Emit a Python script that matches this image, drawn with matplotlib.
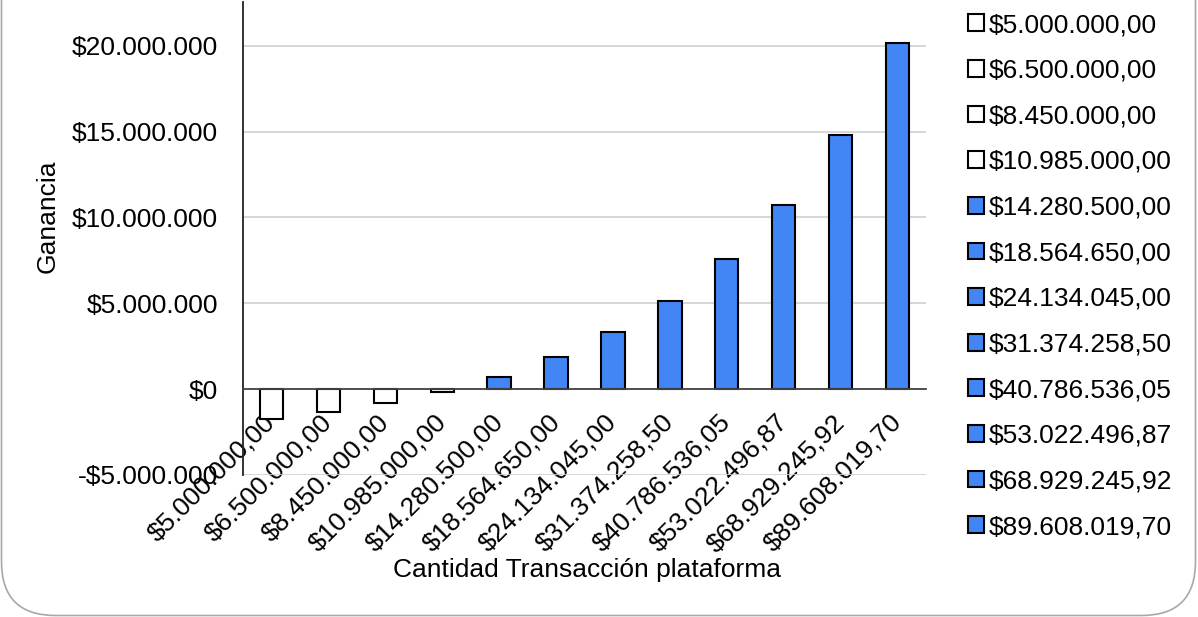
import matplotlib
matplotlib.use('Agg')
import matplotlib.pyplot as plt
from matplotlib.patches import FancyBboxPatch
from matplotlib.ticker import FuncFormatter

plt.rcParams['font.family'] = ['Liberation Sans', 'DejaVu Sans']

# Datos
categorias = ['$5.000.000,00', '$6.500.000,00', '$8.450.000,00', '$10.985.000,00',
              '$14.280.500,00', '$18.564.650,00', '$24.134.045,00', '$31.374.258,50',
              '$40.786.536,05', '$53.022.496,87', '$68.929.245,92', '$89.608.019,70']
ganancia = [-1710000, -1340000, -830000, -170000, 720000, 1860000,
            3320000, 5130000, 7570000, 10720000, 14810000, 20170000]

azul = '#4285F4'
fs = 19

fig = plt.figure(figsize=(11.98, 6.17), dpi=100)
ax = fig.add_axes([243/1198, 1 - 475/617, (926 - 243)/1198, (475 - 2)/617])

for i, (cat, g) in enumerate(zip(categorias, ganancia)):
    color = 'white' if g < 0 else azul
    ax.bar(i, g, width=0.41, color=color, edgecolor='black', linewidth=1.5,
           label=cat, zorder=3)

ax.set_xlim(-0.5, 11.5)
ax.set_ylim(-5000000, 22550000)
ax.set_yticks([-5000000, 0, 5000000, 10000000, 15000000, 20000000])

def fmt(v, pos):
    s = '{:,.0f}'.format(abs(v)).replace(',', '.')
    return ('-$' if v < 0 else '$') + s

ax.yaxis.set_major_formatter(FuncFormatter(fmt))
ax.grid(axis='y', color='#d0d0d0', linewidth=1.2, zorder=0)
ax.tick_params(axis='y', length=0, pad=18, labelsize=fs)

for s in ['top', 'right']:
    ax.spines[s].set_visible(False)
ax.spines['left'].set_color('#222222')
ax.spines['left'].set_linewidth(1.3)
ax.spines['bottom'].set_position(('data', 0))
ax.spines['bottom'].set_color('#444444')
ax.spines['bottom'].set_linewidth(1.3)
ax.spines['bottom'].set_zorder(4)

# etiquetas del eje x giradas, pegadas a la linea del cero
ax.set_xticks(range(len(categorias)))
ax.set_xticklabels(categorias, rotation=45, ha='right', va='center',
                   rotation_mode='anchor', fontsize=fs)
ax.tick_params(axis='x', length=0, pad=21)

fig.text(587/1198, 1 - 570/617, 'Cantidad Transacción plataforma', fontsize=fs,
         ha='center', va='center')
fig.text(48/1198, 1 - 216/617, 'Ganancia', fontsize=fs, rotation=90,
         ha='center', va='center')

ax.legend(loc='upper left', bbox_to_anchor=(968/1198, 1 - 13/617),
          bbox_transform=fig.transFigure, frameon=False, fontsize=fs,
          handlelength=0.6, handleheight=0.6, handletextpad=0.2,
          labelspacing=0.82, borderaxespad=0, borderpad=0)

# marco redondeado del grafico
borde = FancyBboxPatch((1.5/1198, 1.5/617), 1194/1198, 1.2,
                       boxstyle='round,pad=0,rounding_size=0.045',
                       transform=fig.transFigure, facecolor='none',
                       edgecolor='#a8a8a8', linewidth=1.2, mutation_aspect=1198/617)
fig.patches.append(borde)

fig.savefig('out.png', dpi=100)
